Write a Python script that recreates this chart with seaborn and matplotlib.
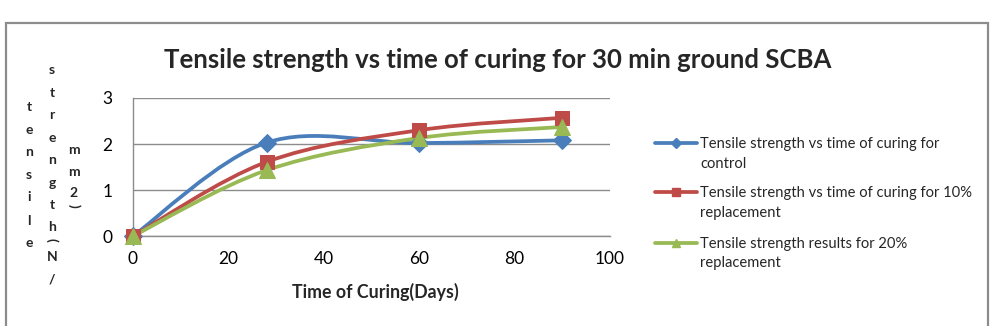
import numpy as np
import matplotlib
matplotlib.use('Agg')
import matplotlib.pyplot as plt
import seaborn as sns
from matplotlib.path import Path
from matplotlib.patches import PathPatch, Rectangle
from matplotlib.lines import Line2D

### DATA ###
days = [0, 28, 60, 90]
control = [0, 2.03, 2.02, 2.08]
repl_10 = [0, 1.61, 2.30, 2.57]
repl_20 = [0, 1.43, 2.13, 2.37]

series_labels = ['Tensile strength vs time of curing for\ncontrol',
                 'Tensile strength vs time of curing for 10%\nreplacement',
                 'Tensile strength results for 20%\nreplacement']
series_colors = ['#4A7EBB', '#BE4B48', '#98B954']
series_markers = ['D', 's', '^']
marker_sizes = [9, 10, 11]

title = 'Tensile strength vs time of curing for 30 min ground SCBA'
xlabel = 'Time of Curing(Days)'
xticks = [0, 20, 40, 60, 80, 100]
yticks = [0, 1, 2, 3]

FONT = ['Lato', 'DejaVu Sans']


def smooth_path(xs, ys):
    """excel style smoothed line: cubic bezier between points (catmull-rom, 1/6)"""
    pts = np.column_stack([xs, ys]).astype(float)
    n = len(pts)
    verts = [pts[0]]
    codes = [Path.MOVETO]
    for i in range(n - 1):
        p0 = pts[max(i - 1, 0)]
        p1 = pts[i]
        p2 = pts[i + 1]
        p3 = pts[min(i + 2, n - 1)]
        c1 = p1 + (p2 - p0) / 6.0
        c2 = p2 - (p3 - p1) / 6.0
        verts += [c1, c2, p2]
        codes += [Path.CURVE4] * 3
    return Path(verts, codes)


sns.set_style('white')
plt.rcParams['font.family'] = FONT

fig = plt.figure(figsize=(9.94, 3.26), dpi=100)
ax = fig.add_axes([0.1338, 0.276, 0.6137 - 0.1338, 0.6994 - 0.276])

# outer chart border
fig.patches.append(Rectangle((6 / 994, -0.05), (988 - 6) / 994, 1.05 - 23 / 326,
                             transform=fig.transFigure, fill=False,
                             edgecolor='#8C8C8C', linewidth=1.6))

for ys, col, mk, ms in zip([control, repl_10, repl_20], series_colors, series_markers, marker_sizes):
    ax.add_patch(PathPatch(smooth_path(days, ys), facecolor='none', edgecolor=col,
                           linewidth=2.7, capstyle='round', zorder=3, clip_on=False))
    sns.lineplot(x=days, y=ys, ax=ax, color=col, marker=mk, markersize=ms,
                 linestyle='', markeredgecolor=col, zorder=4, clip_on=False)

ax.set_xlim(0, 100)
ax.set_ylim(0, 3)
ax.set_xticks(xticks)
ax.set_yticks(yticks)
ax.tick_params(axis='both', labelsize=12.5, colors='#888888', labelcolor='black',
               length=5, width=1, direction='out')
ax.tick_params(axis='x', pad=6)
ax.tick_params(axis='y', pad=10)
ax.grid(axis='y', color='#8C8C8C', linewidth=1)
ax.set_axisbelow(True)
for side in ['top', 'right']:
    ax.spines[side].set_visible(False)
for side in ['left', 'bottom']:
    ax.spines[side].set_color('#8C8C8C')
    ax.spines[side].set_linewidth(1)

fig.text(0.501, 1 - 60 / 326, title, ha='center', va='center', fontsize=18.5, fontweight='bold')
fig.text(375 / 994, 1 - 292 / 326, xlabel, ha='center', va='center', fontsize=12.8, fontweight='bold')

# stacked vertical y label (three wrapped columns)
col1 = [('t', 107), ('e', 130), ('n', 152), ('s', 175), ('i', 197), ('l', 221), ('e', 243)]
col2 = [('s', 70), ('t', 93), ('r', 115), ('e', 138), ('n', 160), ('g', 183), ('t', 205), ('h', 227),
        ('(', 240), ('N', 257), ('/', 280)]
col3 = [('m', 150), ('m', 172), ('2', 193), (')', 206)]
for cx, col in [(29, col1), (52, col2), (74, col3)]:
    for ch, cy in col:
        rot = -90 if ch in '()' else 0
        fig.text(cx / 994, 1 - cy / 326, ch, ha='center', va='center', fontsize=10,
                 fontweight='bold', rotation=rot)

# legend, excel style: handle sits level with the first text line
legend_rows = [143, 192, 243]
for row, lab, col, mk in zip(legend_rows, series_labels, series_colors, series_markers):
    fy = 1 - row / 326
    fig.add_artist(Line2D([655 / 994, 697 / 994], [fy, fy], color=col, linewidth=2.7,
                          transform=fig.transFigure))
    fig.add_artist(Line2D([676 / 994], [fy], color=col, marker=mk, markersize=5.5,
                          linestyle='', transform=fig.transFigure))
    fig.text(700 / 994, 1 - (row - 6) / 326, lab, ha='left', va='top', fontsize=10.6,
             linespacing=1.5)

fig.savefig('out.png', dpi=100, facecolor='white')
